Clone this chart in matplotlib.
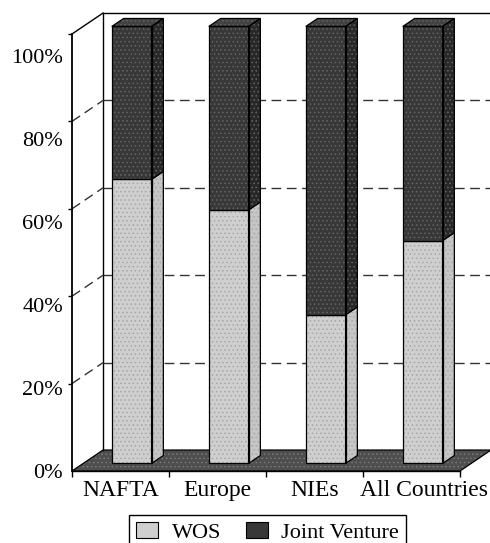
import matplotlib.pyplot as plt
from matplotlib.patches import Polygon, Patch

categories = ['NAFTA', 'Europe', 'NIEs', 'All Countries']
wos = [65, 58, 34, 51]
joint_venture = [35, 42, 66, 49]
series_names = ['WOS', 'Joint Venture']
y_ticks = [0, 20, 40, 60, 80, 100]
y_tick_labels = ['0%', '20%', '40%', '60%', '80%', '100%']

plt.rcParams['font.family'] = ['Liberation Serif', 'DejaVu Serif']
plt.rcParams['hatch.linewidth'] = 0.6

# ------ colours ------
light_front, light_side = '#cfcfcf', '#c6c6c6'
dark_front, dark_side, dark_top = '#383838', '#282828', '#424242'
floor_col = '#4e4e4e'

fig = plt.figure(figsize=(4.9, 5.43), dpi=100)
ax = fig.add_axes([72 / 490, 72 / 543, 388 / 490, 437 / 543])
ax.set_xlim(-0.5, 3.5)
ax.set_ylim(0, 100)

# depth of the chart box, in data units
DX, DY = 0.32, 4.8
# bar width, where the bar starts in depth, and how deep it is
BAR_W = 0.41
BAR_F0 = 0.36
BAR_D = 0.38


def face(pts, fc, hatch_col, z):
    ax.add_patch(Polygon(pts, closed=True, facecolor=fc, edgecolor=hatch_col,
                         hatch='....', lw=0, clip_on=False, zorder=z))
    ax.add_patch(Polygon(pts, closed=True, fill=False, edgecolor='black',
                         lw=0.9, clip_on=False, zorder=z + 0.1, joinstyle='miter'))


def box(x0, y0, h, front, side, top, hatch_col, z, with_top):
    bx, by = BAR_D * DX, BAR_D * DY
    face([(x0, y0), (x0 + BAR_W, y0), (x0 + BAR_W, y0 + h), (x0, y0 + h)],
         front, hatch_col, z)
    face([(x0 + BAR_W, y0), (x0 + BAR_W + bx, y0 + by),
          (x0 + BAR_W + bx, y0 + h + by), (x0 + BAR_W, y0 + h)],
         side, hatch_col, z)
    if with_top:
        face([(x0, y0 + h), (x0 + bx, y0 + h + by),
              (x0 + BAR_W + bx, y0 + h + by), (x0 + BAR_W, y0 + h)],
             top, hatch_col, z)


# ------ floor ------
face([(-0.5, 0), (3.5, 0), (3.5 + DX, DY), (-0.5 + DX, DY)],
     floor_col, '#7a7a7a', 1)

# ------ walls ------
wall = dict(color='black', lw=1.0, clip_on=False, zorder=2)
ax.plot([-0.5 + DX, -0.5 + DX, 3.5 + DX, 3.5 + DX],
        [DY, 100 + DY, 100 + DY, DY], **wall)
ax.plot([-0.5, -0.5 + DX], [100, 100 + DY], **wall)

grid = dict(color='#333333', lw=1.0, ls=(0, (7, 4)), clip_on=False, zorder=2)
for v in y_ticks[1:-1]:
    ax.plot([-0.5, -0.5 + DX], [v, v + DY], **grid)
    ax.plot([-0.5 + DX, 3.5 + DX], [v + DY, v + DY], **grid)

# ------ bars ------
for i, (w, j) in enumerate(zip(wos, joint_venture)):
    x0 = i - BAR_W / 2 + BAR_F0 * DX
    y0 = BAR_F0 * DY
    box(x0, y0, w, light_front, light_side, light_front, '#a8a8a8', 5, False)
    box(x0, y0 + w, j, dark_front, dark_side, dark_top, '#646464', 6, True)

# ------ axes ------
for s in ['top', 'right']:
    ax.spines[s].set_visible(False)
ax.spines['left'].set_linewidth(1.3)
ax.spines['bottom'].set_linewidth(1.0)
ax.spines['left'].set_zorder(3)

ax.set_yticks(y_ticks, minor=True)
ax.set_yticks([v * 0.95 for v in y_ticks], y_tick_labels)
ax.tick_params(axis='y', which='major', length=0, pad=6.5, labelsize=16)
ax.tick_params(axis='y', which='minor', length=3, width=1.0, direction='out')

label_pos = [0, 1, 2, 3.13]
ax.set_xticks([-0.5, 0.5, 1.5, 2.5, 3.5], minor=True)
ax.set_xticks(label_pos, categories)
ax.tick_params(axis='x', which='major', length=0, pad=6.5, labelsize=17)
ax.tick_params(axis='x', which='minor', length=4.5, width=1.0, direction='out')

handles = [Patch(facecolor=light_front, edgecolor='black', lw=0.8),
           Patch(facecolor=dark_front, edgecolor='black', lw=0.8)]
leg = fig.legend(handles, series_names, loc='upper center',
                 bbox_to_anchor=(267.5 / 490, 28 / 543), ncol=2,
                 fancybox=False, edgecolor='black', framealpha=1,
                 fontsize=16, handlelength=1.0, handleheight=0.75,
                 handletextpad=0.6, columnspacing=1.1, borderpad=0.3,
                 borderaxespad=0)
leg.get_frame().set_linewidth(1.0)

fig.savefig('out.png', dpi=100)
